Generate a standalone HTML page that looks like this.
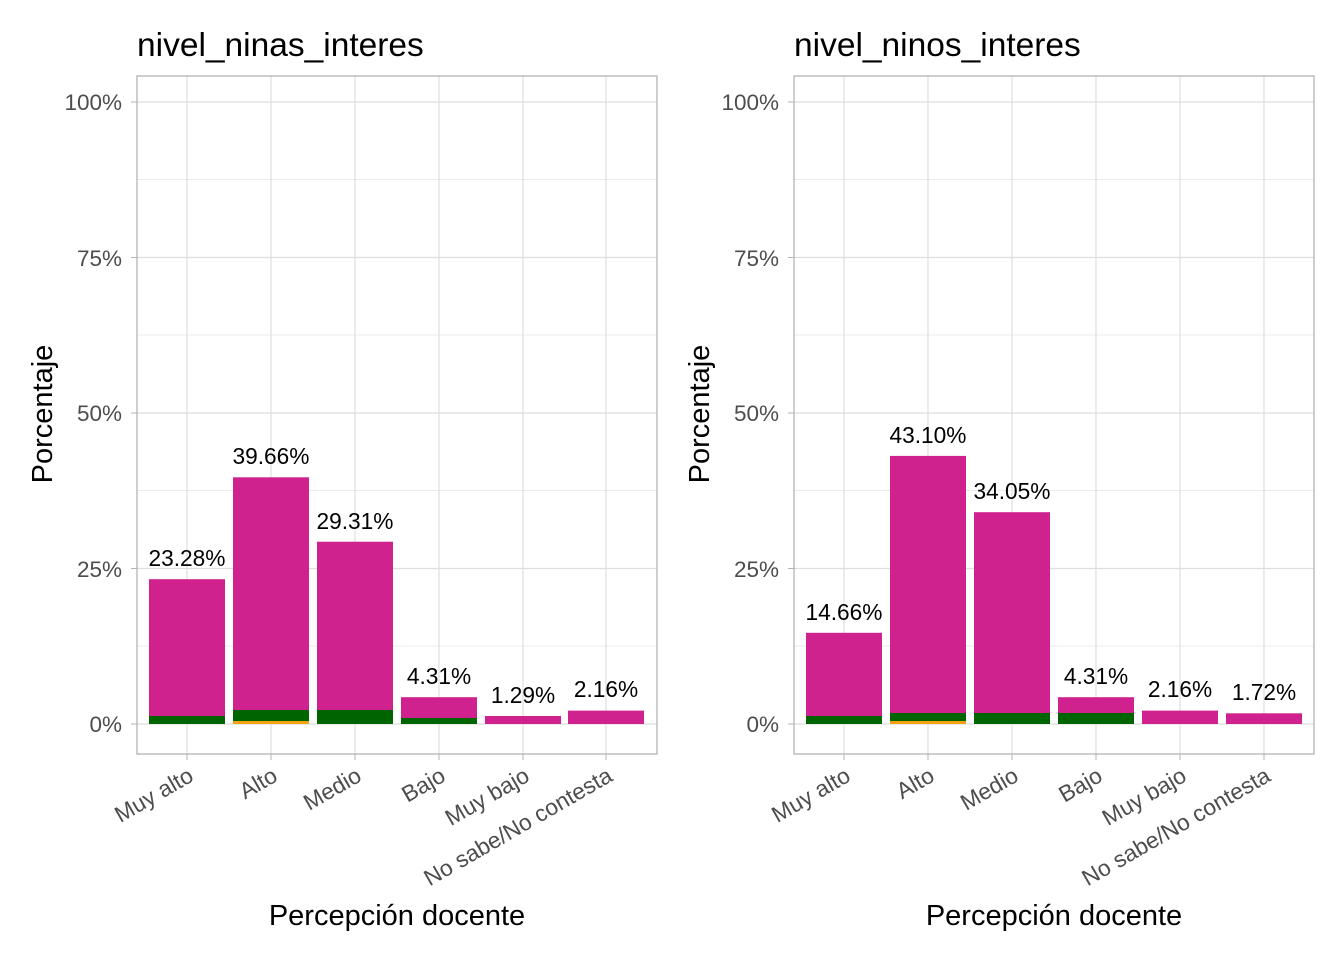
<!DOCTYPE html>
<html><head><style>body{margin:0;background:#fff}svg{display:block}</style></head><body>
<svg width="1344" height="960" xmlns="http://www.w3.org/2000/svg" font-family="Liberation Sans, Arial, sans-serif">
<rect width="1344" height="960" fill="#fff"/>
<g id="p1">
<g stroke="#ebebeb" stroke-width="1">
<line x1="137" x2="657" y1="646" y2="646"/><line x1="137" x2="657" y1="490.5" y2="490.5"/><line x1="137" x2="657" y1="335" y2="335"/><line x1="137" x2="657" y1="179.5" y2="179.5"/>
</g>
<g stroke="#dedede" stroke-width="1.2">
<line x1="137" x2="657" y1="724" y2="724"/><line x1="137" x2="657" y1="568.5" y2="568.5"/><line x1="137" x2="657" y1="413" y2="413"/><line x1="137" x2="657" y1="257.5" y2="257.5"/><line x1="137" x2="657" y1="102" y2="102"/>
<line x1="187" x2="187" y1="76" y2="754"/><line x1="271" x2="271" y1="76" y2="754"/><line x1="355" x2="355" y1="76" y2="754"/><line x1="439" x2="439" y1="76" y2="754"/><line x1="523" x2="523" y1="76" y2="754"/><line x1="606" x2="606" y1="76" y2="754"/>
</g>
<g fill="#d0228f">
<rect x="149" y="579.2" width="76" height="144.8"/><rect x="233" y="477.3" width="76" height="246.7"/><rect x="317" y="541.7" width="76" height="182.3"/><rect x="401" y="697.2" width="76" height="26.8"/><rect x="485" y="716" width="76" height="8"/><rect x="568" y="710.6" width="76" height="13.4"/>
</g>
<g fill="#006400">
<rect x="149" y="716" width="76" height="8"/><rect x="233" y="710" width="76" height="11"/><rect x="317" y="710" width="76" height="14"/><rect x="401" y="718" width="76" height="6"/>
</g>
<rect x="233" y="721" width="76" height="3" fill="#f5a30f"/>
<rect x="137" y="76" width="520" height="678" fill="none" stroke="#b3b3b3" stroke-width="1.3"/>
<g font-size="22.7" fill="#000" text-anchor="middle">
<text x="187" y="566">23.28%</text><text x="271" y="464">39.66%</text><text x="355" y="529">29.31%</text><text x="439" y="684">4.31%</text><text x="523" y="703">1.29%</text><text x="606" y="697">2.16%</text>
</g>
<g font-size="22.5" fill="#4d4d4d" text-anchor="end">
<text x="122" y="732">0%</text><text x="122" y="577">25%</text><text x="122" y="421">50%</text><text x="122" y="266">75%</text><text x="122" y="110">100%</text>
</g>
<g stroke="#b3b3b3"><line x1="131" x2="137" y1="724" y2="724"/><line x1="131" x2="137" y1="568.5" y2="568.5"/><line x1="131" x2="137" y1="413" y2="413"/><line x1="131" x2="137" y1="257.5" y2="257.5"/><line x1="131" x2="137" y1="102" y2="102"/>
<line x1="187" x2="187" y1="754" y2="760"/><line x1="271" x2="271" y1="754" y2="760"/><line x1="355" x2="355" y1="754" y2="760"/><line x1="439" x2="439" y1="754" y2="760"/><line x1="523" x2="523" y1="754" y2="760"/><line x1="606" x2="606" y1="754" y2="760"/></g>
<g font-size="22.8" fill="#4d4d4d" text-anchor="end">
<text transform="translate(195,780) rotate(-30)">Muy alto</text><text transform="translate(279,780) rotate(-30)">Alto</text><text transform="translate(363,780) rotate(-30)">Medio</text><text transform="translate(447,780) rotate(-30)">Bajo</text><text transform="translate(531,780) rotate(-30)">Muy bajo</text><text transform="translate(614,780) rotate(-30)">No sabe/No contesta</text>
</g>
<text x="137" y="56" font-size="33.5" fill="#000">nivel_ninas_interes</text>
<text x="397" y="925" font-size="29" fill="#000" text-anchor="middle">Percepción docente</text>
<text transform="translate(52,414) rotate(-90)" font-size="29" fill="#000" text-anchor="middle">Porcentaje</text>
</g>
<g id="p2">
<g stroke="#ebebeb" stroke-width="1">
<line x1="794" x2="1314" y1="646" y2="646"/><line x1="794" x2="1314" y1="490.5" y2="490.5"/><line x1="794" x2="1314" y1="335" y2="335"/><line x1="794" x2="1314" y1="179.5" y2="179.5"/>
</g>
<g stroke="#dedede" stroke-width="1.2">
<line x1="794" x2="1314" y1="724" y2="724"/><line x1="794" x2="1314" y1="568.5" y2="568.5"/><line x1="794" x2="1314" y1="413" y2="413"/><line x1="794" x2="1314" y1="257.5" y2="257.5"/><line x1="794" x2="1314" y1="102" y2="102"/>
<line x1="844" x2="844" y1="76" y2="754"/><line x1="928" x2="928" y1="76" y2="754"/><line x1="1012" x2="1012" y1="76" y2="754"/><line x1="1096" x2="1096" y1="76" y2="754"/><line x1="1180" x2="1180" y1="76" y2="754"/><line x1="1264" x2="1264" y1="76" y2="754"/>
</g>
<g fill="#d0228f">
<rect x="806" y="632.8" width="76" height="91.2"/><rect x="890" y="455.9" width="76" height="268.1"/><rect x="974" y="512.2" width="76" height="211.8"/><rect x="1058" y="697.2" width="76" height="26.8"/><rect x="1142" y="710.6" width="76" height="13.4"/><rect x="1226" y="713.3" width="76" height="10.7"/>
</g>
<g fill="#006400">
<rect x="806" y="716" width="76" height="8"/><rect x="890" y="713" width="76" height="8"/><rect x="974" y="713" width="76" height="11"/><rect x="1058" y="713" width="76" height="11"/>
</g>
<rect x="890" y="721" width="76" height="3" fill="#f5a30f"/>
<rect x="794" y="76" width="520" height="678" fill="none" stroke="#b3b3b3" stroke-width="1.3"/>
<g font-size="22.7" fill="#000" text-anchor="middle">
<text x="844" y="620">14.66%</text><text x="928" y="443">43.10%</text><text x="1012" y="499">34.05%</text><text x="1096" y="684">4.31%</text><text x="1180" y="697">2.16%</text><text x="1264" y="700">1.72%</text>
</g>
<g font-size="22.5" fill="#4d4d4d" text-anchor="end">
<text x="779" y="732">0%</text><text x="779" y="577">25%</text><text x="779" y="421">50%</text><text x="779" y="266">75%</text><text x="779" y="110">100%</text>
</g>
<g stroke="#b3b3b3"><line x1="788" x2="794" y1="724" y2="724"/><line x1="788" x2="794" y1="568.5" y2="568.5"/><line x1="788" x2="794" y1="413" y2="413"/><line x1="788" x2="794" y1="257.5" y2="257.5"/><line x1="788" x2="794" y1="102" y2="102"/>
<line x1="844" x2="844" y1="754" y2="760"/><line x1="928" x2="928" y1="754" y2="760"/><line x1="1012" x2="1012" y1="754" y2="760"/><line x1="1096" x2="1096" y1="754" y2="760"/><line x1="1180" x2="1180" y1="754" y2="760"/><line x1="1264" x2="1264" y1="754" y2="760"/></g>
<g font-size="22.8" fill="#4d4d4d" text-anchor="end">
<text transform="translate(852,780) rotate(-30)">Muy alto</text><text transform="translate(936,780) rotate(-30)">Alto</text><text transform="translate(1020,780) rotate(-30)">Medio</text><text transform="translate(1104,780) rotate(-30)">Bajo</text><text transform="translate(1188,780) rotate(-30)">Muy bajo</text><text transform="translate(1272,780) rotate(-30)">No sabe/No contesta</text>
</g>
<text x="794" y="56" font-size="33.5" fill="#000">nivel_ninos_interes</text>
<text x="1054" y="925" font-size="29" fill="#000" text-anchor="middle">Percepción docente</text>
<text transform="translate(709,414) rotate(-90)" font-size="29" fill="#000" text-anchor="middle">Porcentaje</text>
</g>
</svg>
</body></html>
